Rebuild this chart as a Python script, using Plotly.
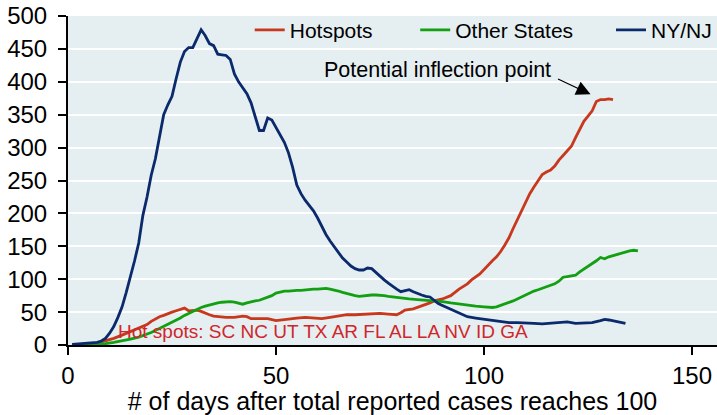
import plotly.graph_objects as go

# ---- data ----
nynj_days = [1, 3, 5, 7, 8, 9, 10, 11, 12, 13, 14, 15, 16, 17, 18, 19, 20, 21, 22, 23, 24, 25,
             26, 27, 28, 29, 30, 31, 32, 33, 34, 35, 36, 37, 38, 39, 40, 41, 42, 43, 44, 45,
             46, 47, 48, 49, 50, 51, 52, 53, 54, 55, 56, 57, 58, 59, 60, 61, 62, 63, 64, 65,
             66, 67, 68, 69, 70, 71, 72, 73, 74, 75, 76, 77, 78, 79, 80, 81, 82, 83, 84, 85,
             86, 87, 88, 89, 90, 92, 94, 96, 98, 100, 102, 104, 106, 108, 110, 112, 114, 116,
             118, 120, 122, 124, 126, 128, 129, 130, 132, 134]
nynj_vals = [1, 2, 3, 4, 6, 10, 18, 28, 42, 58, 80, 103, 128, 155, 197, 225, 258, 283, 315, 350,
             365, 378, 405, 430, 446, 452, 452, 465, 479, 470, 458, 455, 442, 441, 440, 434,
             412, 400, 390, 382, 368, 345, 326, 326, 345, 342, 330, 318, 308, 292, 270, 243,
             230, 220, 212, 204, 193, 180, 168, 158, 149, 140, 132, 126, 120, 116, 114, 114,
             117, 116, 110, 104, 99, 94, 89, 85, 81, 83, 84, 81, 78, 76, 74, 73, 68, 63, 60,
             54, 48, 43, 41, 39, 37, 35, 34, 34, 34, 33, 32, 33, 35, 35, 33, 33, 34, 37, 39,
             38, 35, 33]

hot_days = [1, 4, 7, 9, 11, 13, 15, 17, 19, 20, 21, 22, 23, 24, 25, 26, 27, 28, 29, 30, 31, 32,
            33, 34, 35, 36, 38, 40, 42, 43, 44, 46, 48, 50, 51, 53, 55, 57, 59, 61, 63, 65, 67,
            69, 71, 73, 75, 77, 79, 80, 81, 83, 85, 87, 88, 90, 92, 93, 94, 96, 97, 99, 100,
            101, 102, 103, 104, 105, 106, 107, 108, 109, 110, 111, 112, 113, 114, 115, 116,
            117, 118, 119, 120, 121, 122, 123, 124, 125, 126, 127, 128, 129, 130, 131]
hot_vals = [0.5, 1, 3, 6, 10, 15, 20, 25, 31, 36, 40, 43, 45, 48, 50, 52, 54, 56, 52, 53, 53,
            51, 48, 46, 44, 43, 42, 42, 44, 43, 40, 40, 40, 37, 38, 40, 41, 42, 41, 40, 42, 44,
            46, 46, 47, 48, 48, 47, 46, 49, 53, 55, 59, 64, 67, 70, 75, 80, 85, 93, 99, 108,
            115, 121, 128, 134, 142, 152, 163, 177, 190, 205, 218, 230, 240, 250, 259, 263,
            266, 272, 281, 288, 295, 302, 315, 328, 340, 348, 356, 370, 373, 373, 374, 373]

oth_days = [1, 3, 5, 7, 9, 11, 13, 15, 17, 19, 20, 21, 22, 23, 24, 25, 26, 27, 28, 29, 30, 31,
            32, 33, 34, 35, 36, 37, 38, 39, 40, 41, 42, 43, 44, 45, 46, 47, 48, 49, 50, 51, 52,
            53, 54, 55, 56, 57, 58, 59, 60, 61, 62, 63, 64, 65, 66, 67, 68, 69, 70, 71, 72, 73,
            74, 75, 76, 77, 78, 79, 80, 81, 82, 84, 86, 88, 90, 92, 94, 96, 98, 100, 101, 102,
            103, 104, 105, 106, 107, 108, 109, 110, 111, 112, 113, 114, 115, 116, 117, 118,
            119, 120, 121, 122, 123, 124, 125, 126, 127, 128, 129, 130, 131, 132, 133, 134,
            135, 136, 137]
oth_vals = [0, 0.5, 1, 1, 2, 4, 6, 9, 12, 16, 19, 22, 25, 29, 32, 35, 38, 41, 45, 48, 52, 55,
            57, 59, 61, 63, 64, 65, 66, 66, 65, 63, 62, 64, 66, 67, 68, 70, 72, 75, 79, 81, 82,
            82, 83, 83, 83, 84, 84, 85, 85, 86, 86, 85, 84, 82, 80, 78, 76, 75, 74, 75, 76, 76,
            76, 76, 75, 74, 73, 72, 72, 71, 70, 69, 68, 68, 66, 64, 62, 60, 59, 58, 57, 57, 58,
            60, 62, 64, 67, 70, 73, 76, 80, 82, 84, 86, 88, 90, 93, 97, 103, 104, 105, 106,
            111, 115, 119, 123, 128, 133, 131, 134, 136, 138, 140, 141, 143, 144, 143]

x_ticks = [0, 50, 100, 150]
y_ticks = [0, 50, 100, 150, 200, 250, 300, 350, 400, 450, 500]

RED = "#C8381C"
GREEN = "#12A012"
NAVY = "#0B2A6C"
FONT = "Liberation Sans, Arial, sans-serif"

fig = go.Figure()
fig.add_trace(go.Scatter(x=hot_days, y=hot_vals, mode="lines", name="Hotspots",
                         line=dict(color=RED, width=2.8), legend="legend", showlegend=True))
fig.add_trace(go.Scatter(x=oth_days, y=oth_vals, mode="lines", name="Other States",
                         line=dict(color=GREEN, width=2.8), legend="legend2", showlegend=True))
fig.add_trace(go.Scatter(x=nynj_days, y=nynj_vals, mode="lines", name="NY/NJ",
                         line=dict(color=NAVY, width=2.8), legend="legend3", showlegend=True))

leg_common = dict(orientation="h", yanchor="middle", y=0.957,
                  bgcolor="rgba(0,0,0,0)", font=dict(size=21, color="black", family=FONT))

fig.update_layout(
    width=717, height=415,
    margin=dict(l=68, r=0, t=16, b=70, autoexpand=False),
    showlegend=True,
    paper_bgcolor="white",
    plot_bgcolor="#E5EEF1",
    font=dict(family=FONT, size=21, color="black"),
    legend=dict(x=0.28, xanchor="left", **leg_common),
    legend2=dict(x=0.535, xanchor="left", **leg_common),
    legend3=dict(x=1.0, xanchor="right", **leg_common),
    xaxis=dict(range=[0, 156], tickvals=x_ticks, ticks="outside", ticklen=8, tickwidth=2,
               tickcolor="black", showline=True, linecolor="black", linewidth=2,
               showgrid=False, zeroline=False, tickfont=dict(size=24), automargin=False,
               title=dict(text="# of days after total reported cases reaches 100",
                          font=dict(size=25), standoff=7)),
    yaxis=dict(range=[0, 500], tickvals=y_ticks, ticks="outside", ticklen=8, tickwidth=2,
               tickcolor="black", showline=True, linecolor="black", linewidth=2,
               showgrid=True, gridcolor="white", gridwidth=2, zeroline=False,
               tickfont=dict(size=24), ticklabelstandoff=6, automargin=False),
)

fig.add_annotation(x=125.6, y=381, xref="x", yref="y", text="", showarrow=True,
                   ax=-34, ay=-16, axref="pixel", ayref="pixel",
                   arrowhead=2, arrowsize=2.2, arrowwidth=1.3, arrowcolor="black")
fig.add_annotation(x=88.9, y=418, xref="x", yref="y", text="Potential inflection point",
                   showarrow=False, font=dict(size=21.5, color="black"))
fig.add_annotation(x=11.5, y=21, xref="x", yref="y", xanchor="left",
                   text="Hot spots: SC NC UT TX AR FL AL LA NV ID GA",
                   showarrow=False, font=dict(size=19, color="#D0262A"))

fig.write_html("out.html", config={"displayModeBar": False},
               post_script="document.body.style.margin='0';")
